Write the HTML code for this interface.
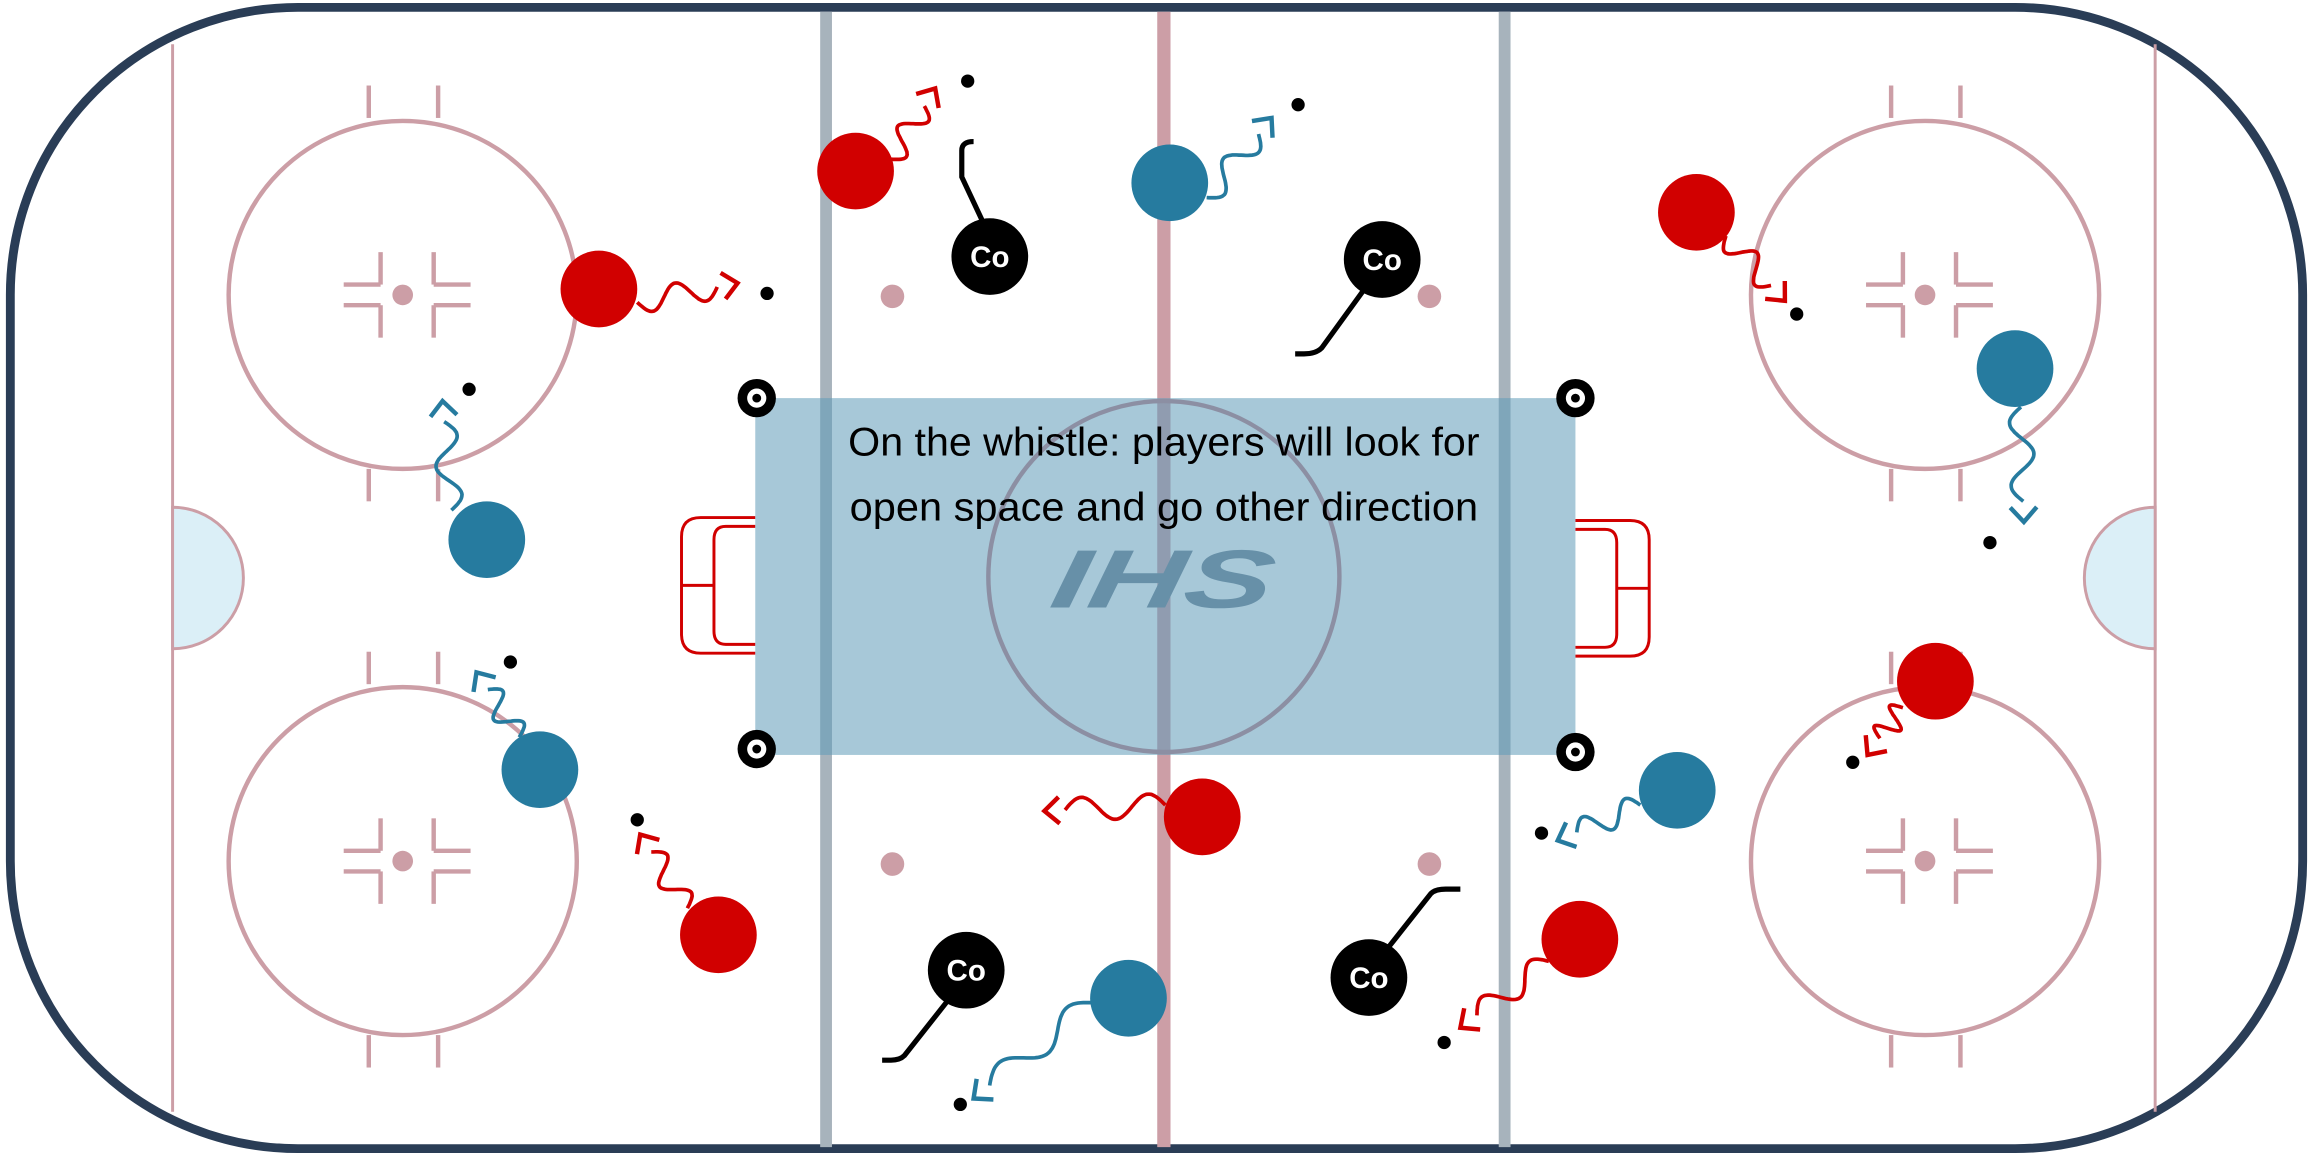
<!DOCTYPE html>
<html><head><meta charset="utf-8"><style>
html,body{margin:0;padding:0;background:#fff;}
svg{display:block;}
</style></head><body>
<svg id="s" width="2313" height="1156" viewBox="0 0 1568 784" preserveAspectRatio="none" xmlns="http://www.w3.org/2000/svg">
<rect x="0" y="0" width="1568" height="784" fill="#fff"/>
<rect x="7" y="5" width="1554" height="774" rx="195" ry="195" fill="#fff" stroke="#2a3d56" stroke-width="6"/>
<line x1="117" y1="30" x2="117" y2="754" stroke="#cc9ea6" stroke-width="2"/>
<line x1="1461" y1="30" x2="1461" y2="754" stroke="#cc9ea6" stroke-width="2"/>
<path d="M117,344 A48,48 0 0 1 117,440 Z" fill="#dbeff7" stroke="#cc9ea6" stroke-width="2"/>
<path d="M1461,344 A48,48 0 0 0 1461,440 Z" fill="#dbeff7" stroke="#cc9ea6" stroke-width="2"/>
<line x1="560" y1="8" x2="560" y2="778" stroke="#a7b3bc" stroke-width="8"/>
<line x1="1020" y1="8" x2="1020" y2="778" stroke="#a7b3bc" stroke-width="8"/>
<line x1="789" y1="8" x2="789" y2="778" stroke="#cc9ea6" stroke-width="9"/>
<g id="fo" fill="none" stroke="#cc9ea6" stroke-width="3"></g>
<g fill="#cc9ea6">
<circle cx="605" cy="201" r="8"/><circle cx="969" cy="201" r="8"/>
<circle cx="605" cy="586" r="8"/><circle cx="969" cy="586" r="8"/>
</g>
<g fill="none" stroke="#d10000" stroke-width="2">
<path d="M512,351 L475,351 Q462,351 462,364 L462,430 Q462,443 475,443 L512,443"/>
<path d="M512,357 L492,357 Q484,357 484,366 L484,428 Q484,437 492,437 L512,437"/>
<line x1="462" y1="397" x2="484" y2="397"/>
<path d="M1068,353 L1105,353 Q1118,353 1118,366 L1118,432 Q1118,445 1105,445 L1068,445"/>
<path d="M1068,359 L1088,359 Q1096,359 1096,368 L1096,430 Q1096,439 1088,439 L1068,439"/>
<line x1="1096" y1="399" x2="1118" y2="399"/>
</g>
<rect x="512" y="270" width="556" height="242" fill="#5e9bb8" fill-opacity="0.55"/>
<circle cx="789" cy="391" r="119" fill="none" stroke="#8c8fa3" stroke-width="3"/>
<text x="789" y="309" font-family="Liberation Sans, sans-serif" font-size="27" text-anchor="middle" fill="#000" textLength="428" lengthAdjust="spacingAndGlyphs">On the whistle: players will look for</text>
<text x="789" y="353" font-family="Liberation Sans, sans-serif" font-size="27" text-anchor="middle" fill="#000" textLength="426" lengthAdjust="spacingAndGlyphs">open space and go other direction</text>
<text x="787" y="412" font-family="Liberation Sans, sans-serif" font-size="56" font-weight="bold" font-style="italic" text-anchor="middle" fill="#6790a8" transform="skewX(-10) translate(71,0)" textLength="150" lengthAdjust="spacingAndGlyphs">IHS</text>
<g id="tires"></g>
<g id="sq" fill="none" stroke-width="2.5" stroke-linecap="butt"></g>
<g id="ply"></g>
</svg>
<script>
var NS="http://www.w3.org/2000/svg";
function el(p,t,a){var e=document.createElementNS(NS,t);for(var k in a)e.setAttribute(k,a[k]);p.appendChild(e);return e;}
var fo=document.getElementById('fo');
[[273,200],[273,584],[1305,200],[1305,584]].forEach(function(c){
 var x=c[0],y=c[1];
 el(fo,'circle',{cx:x,cy:y,r:118});
 [[-23,-142,-23,-120],[24,-142,24,-120],[-23,118,-23,140],[24,118,24,140],
  [-15,-29,-15,-7],[-40,-7,-15,-7],[21,-29,21,-7],[21,-7,46,-7],
  [-15,7,-15,29],[-40,7,-15,7],[21,7,21,29],[21,7,46,7]].forEach(function(l){
  el(fo,'line',{x1:x+l[0],y1:y+l[1],x2:x+l[2],y2:y+l[3]});});
 el(document.getElementById('s'),'circle',{cx:x,cy:y,r:7,fill:'#cc9ea6'});
});
var tg=document.getElementById('tires');
[[513,270],[513,508],[1068,270],[1068,510]].forEach(function(c){
 el(tg,'circle',{cx:c[0],cy:c[1],r:13,fill:'#000'});
 el(tg,'circle',{cx:c[0],cy:c[1],r:6.5,fill:'#fff'});
 el(tg,'circle',{cx:c[0],cy:c[1],r:3,fill:'#000'});
});
var R='#d10000',B='#267b9f';
var sq=document.getElementById('sq');
function squig(x1,y1,x2,y2,col){
 var dx=x2-x1,dy=y2-y1,L=Math.hypot(dx,dy),ux=dx/L,uy=dy/L,nx=-uy,ny=ux;
 var Ls=L-14,pts=[];
 for(var i=0;i<=60;i++){var t=i/60*Ls;var a=Math.sin(t/Ls*Math.PI*3)*8;
  pts.push((x1+ux*t+nx*a).toFixed(1)+','+(y1+uy*t+ny*a).toFixed(1));}
 el(sq,'polyline',{points:pts.join(' '),stroke:col});
 var tx=x2,ty=y2,bx=x2-ux*10,by=y2-uy*10;
 el(sq,'polyline',{points:(bx+nx*9)+','+(by+ny*9)+' '+tx+','+ty+' '+(bx-nx*9)+','+(by-ny*9),stroke:col,'stroke-width':3});
}
[[432,205,500,192,R],[306,346,300,272,B],[604,108,634,60,R],[818,134,862,80,B],
 [1170,160,1210,204,R],[1370,276,1372,354,B],[352,500,323,456,B],[466,616,434,566,R],
 [790,546,708,550,R],[1290,480,1266,512,R],[1112,546,1056,570,B],[1050,652,990,697,R],
 [740,680,660,745,B]].forEach(function(s){squig.apply(null,s);});
var pl=document.getElementById('ply');
[[406,196],[580,116],[1150,144],[815,554],[1312,462],[1071,637],[487,634]].forEach(function(c){el(pl,'circle',{cx:c[0],cy:c[1],r:26,fill:R});});
[[330,366],[793,124],[1366,250],[366,522],[1137,536],[765,677]].forEach(function(c){el(pl,'circle',{cx:c[0],cy:c[1],r:26,fill:B});});
[[520,199],[318,264],[656,55],[880,71],[1218,213],[1349,368],[346,449],[432,556],[1256,517],[1045,565],[979,707],[651,749]].forEach(function(c){el(pl,'circle',{cx:c[0],cy:c[1],r:4.5,fill:'#000'});});
var st=["M667,152 L652,120 L652,102 Q652,96 660,96","M925,196 L896,236 Q892,240 884,240 L878,240","M643,678 L613,716 Q610,719 604,719 L598,719","M940,644 L970,606 Q973,603 980,603 L990,603"];
st.forEach(function(p){el(pl,'path',{d:p,fill:'none',stroke:'#000','stroke-width':3.5});});
[[671,174],[937,176],[655,658],[928,663]].forEach(function(c){
 el(pl,'circle',{cx:c[0],cy:c[1],r:26,fill:'#000'});
 var t=el(pl,'text',{x:c[0],y:c[1]+7,'text-anchor':'middle','font-family':'Liberation Sans, sans-serif','font-size':20,'font-weight':'bold',fill:'#fff'});
 t.textContent='Co';
});
</script>
</body></html>
